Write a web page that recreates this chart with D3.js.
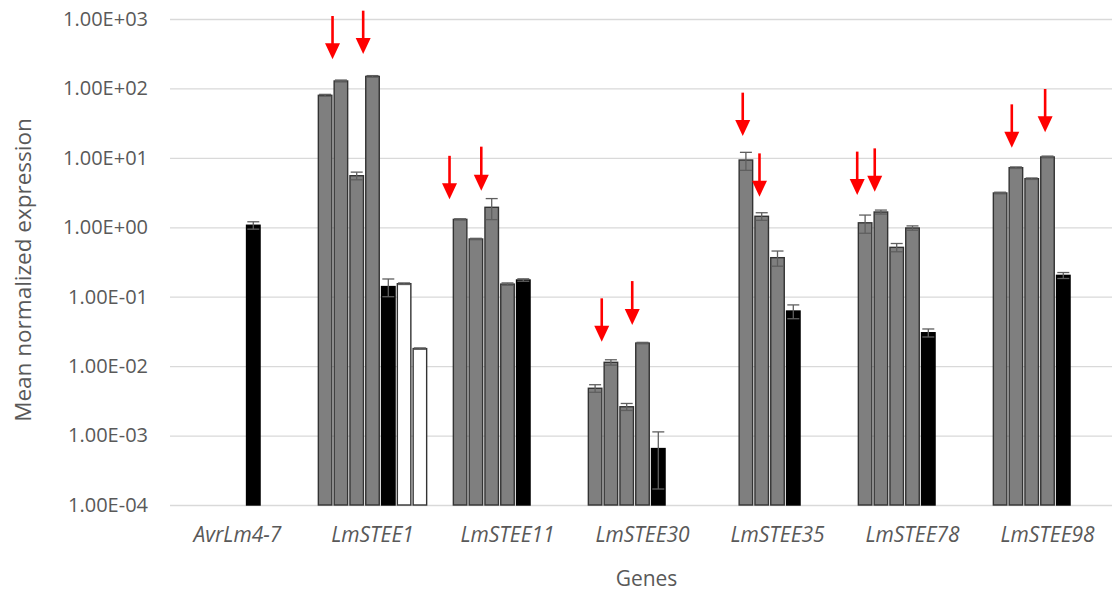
<!DOCTYPE html>
<html>
<head>
<meta charset="utf-8">
<script src="https://cdn.jsdelivr.net/npm/d3@7"></script>
<style>
  html, body { margin: 0; padding: 0; background: #fff; }
  svg { display: block; }
  text { font-family: "Open Sans", "Noto Sans", sans-serif; fill: #595959; }
</style>
</head>
<body>
<svg id="chart" width="1112" height="592"></svg>
<script>
// ---- data ----
const genes = ["AvrLm4-7", "LmSTEE1", "LmSTEE11", "LmSTEE30", "LmSTEE35", "LmSTEE78", "LmSTEE98"];
const yTicks = [1e-4, 1e-3, 1e-2, 1e-1, 1e0, 1e1, 1e2, 1e3];

const gray1 = [null, 79.6, 1.30, 0.0048, null, 1.16, 3.12];
const gray2 = [null, 128, 0.678, 0.01135, 9.31, 1.66, 7.22];
const gray3 = [null, 5.53, 1.94, 0.0026, 1.44, 0.514, 5.01];
const gray4 = [null, 149, 0.152, 0.0215, 0.365, 0.977, 10.3];
const black = [1.07, 0.14, 0.174, 0.00065, 0.0622, 0.0303, 0.203];
const white1 = [null, 0.154, null, null, null, null, null];
const white2 = [null, 0.0179, null, null, null, null, null];

const gray1Err = [null, 2.5, 0.025, 0.0006, null, 0.34, 0.08];
const gray2Err = [null, 4, 0.015, 0.001, 2.7, 0.11, 0.18];
const gray3Err = [null, 0.7, 0.65, 0.0003, 0.18, 0.07, 0.12];
const gray4Err = [null, 4, 0.006, 0.0005, 0.09, 0.07, 0.3];
const blackErr = [0.13, 0.04, 0.007, 0.00048, 0.014, 0.004, 0.02];
const white1Err = [null, 0.004, null, null, null, null, null];
const white2Err = [null, 0.0004, null, null, null, null, null];

const seriesValues = [gray1, gray2, gray3, gray4, black, white1, white2];
const seriesErrors = [gray1Err, gray2Err, gray3Err, gray4Err, blackErr, white1Err, white2Err];
const seriesFill = ["#7f7f7f", "#7f7f7f", "#7f7f7f", "#7f7f7f", "#000000", "#ffffff", "#ffffff"];

// red arrow annotations: gene, slot (series position), top value, tip value
const arrowGene = ["LmSTEE1", "LmSTEE1", "LmSTEE11", "LmSTEE11", "LmSTEE30", "LmSTEE30",
                   "LmSTEE35", "LmSTEE35", "LmSTEE78", "LmSTEE78", "LmSTEE98", "LmSTEE98"];
const arrowSlot = [0.47, 2.41, -0.67, 1.34, 0.42, 2.35, 0.8, 1.86, -0.5, 0.61, 0.74, 2.85];
const arrowTop = [1104, 1318, 10.7, 14.5, 0.0948, 0.168, 86.9, 11.6, 12.3, 13.7, 59.0, 98.2];
const arrowTip = [263, 313, 2.53, 3.37, 0.0225, 0.0392, 20.7, 2.76, 2.92, 3.26, 14.0, 23.3];

// ---- layout ----
const svg = d3.select("#chart");
const mLeft = 170, mRight = 1115, mTop = 19, mBottom = 505;

const x0 = d3.scaleBand().domain(genes).range([mLeft, mRight]).padding(0);
const x1 = d3.scaleBand().domain(d3.range(seriesValues.length)).range([0, x0.bandwidth()])
  .paddingInner(0.145).paddingOuter(0.845);
const y = d3.scaleLog().domain([1e-4, 1e3]).range([mBottom, mTop]);

function fmt(v) {
  const e = Math.round(Math.log10(v));
  const s = e < 0 ? "-" : "+";
  const a = Math.abs(e);
  return (v / Math.pow(10, e)).toFixed(2) + "E" + s + (a < 10 ? "0" + a : a);
}

// gridlines + y axis
const yAxis = d3.axisLeft(y).tickValues(yTicks).tickFormat(fmt).tickSize(-(1112 - mLeft)).tickPadding(22);
const gy = svg.append("g").attr("transform", `translate(${mLeft},0)`).call(yAxis);
gy.select(".domain").remove();
gy.selectAll(".tick line").attr("stroke", "#d9d9d9").attr("stroke-width", 1.3);
gy.selectAll(".tick text").attr("font-size", 20).style("fill", "#595959")
  .style("font-family", '"Open Sans", sans-serif');

// x axis labels
const xAxis = d3.axisBottom(x0).tickSize(0).tickPadding(22);
const gx = svg.append("g").attr("transform", `translate(0,${mBottom})`).call(xAxis);
gx.select(".domain").remove();
gx.selectAll(".tick text").attr("font-size", 21).attr("font-style", "italic")
  .style("fill", "#595959").style("font-family", '"Open Sans", sans-serif');

// bars
const flat = [];
seriesValues.forEach((arr, si) => {
  arr.forEach((v, gi) => {
    if (v != null) flat.push({ gene: genes[gi], s: si, v: v, e: seriesErrors[si][gi] });
  });
});

const barG = svg.append("g");
barG.selectAll("rect").data(flat).join("rect")
  .attr("x", d => x0(d.gene) + x1(d.s))
  .attr("y", d => y(d.v))
  .attr("width", x1.bandwidth())
  .attr("height", d => mBottom - y(d.v))
  .attr("fill", d => seriesFill[d.s])
  .attr("stroke", d => d.s === 4 ? "#000" : "#333333")
  .attr("stroke-width", 1.4);

// error bars
const capW = 12;
const errG = svg.append("g").attr("stroke", "#5f5f5f").attr("stroke-width", 1.3);
flat.filter(d => d.e).forEach(d => {
  const cx = x0(d.gene) + x1(d.s) + x1.bandwidth() / 2;
  const hi = y(d.v + d.e), lo = y(Math.max(d.v - d.e, 1e-4));
  errG.append("line").attr("x1", cx).attr("x2", cx).attr("y1", hi).attr("y2", lo);
  errG.append("line").attr("x1", cx - capW / 2).attr("x2", cx + capW / 2).attr("y1", hi).attr("y2", hi);
  errG.append("line").attr("x1", cx - capW / 2).attr("x2", cx + capW / 2).attr("y1", lo).attr("y2", lo);
});

// red arrows
const arrG = svg.append("g");
arrowGene.forEach((g, i) => {
  const cx = x0(g) + x0.bandwidth() / 2 + (arrowSlot[i] - 3) * x1.step();
  const yt = y(arrowTop[i]), yp = y(arrowTip[i]);
  const headL = 16, headW = 15;
  arrG.append("line").attr("x1", cx).attr("x2", cx).attr("y1", yt).attr("y2", yp - headL + 1)
    .attr("stroke", "#ff0000").attr("stroke-width", 2.6);
  arrG.append("path")
    .attr("d", `M${cx - headW / 2},${yp - headL} L${cx + headW / 2},${yp - headL} L${cx},${yp} Z`)
    .attr("fill", "#ff0000");
});

// axis titles
svg.append("text").attr("x", (mLeft + mRight) / 2 + 4).attr("y", 586)
  .attr("text-anchor", "middle").attr("font-size", 21).text("Genes");
svg.append("text").attr("transform", `translate(31,270) rotate(-90)`)
  .attr("text-anchor", "middle").attr("font-size", 22.5).text("Mean normalized expression");
</script>
</body>
</html>
